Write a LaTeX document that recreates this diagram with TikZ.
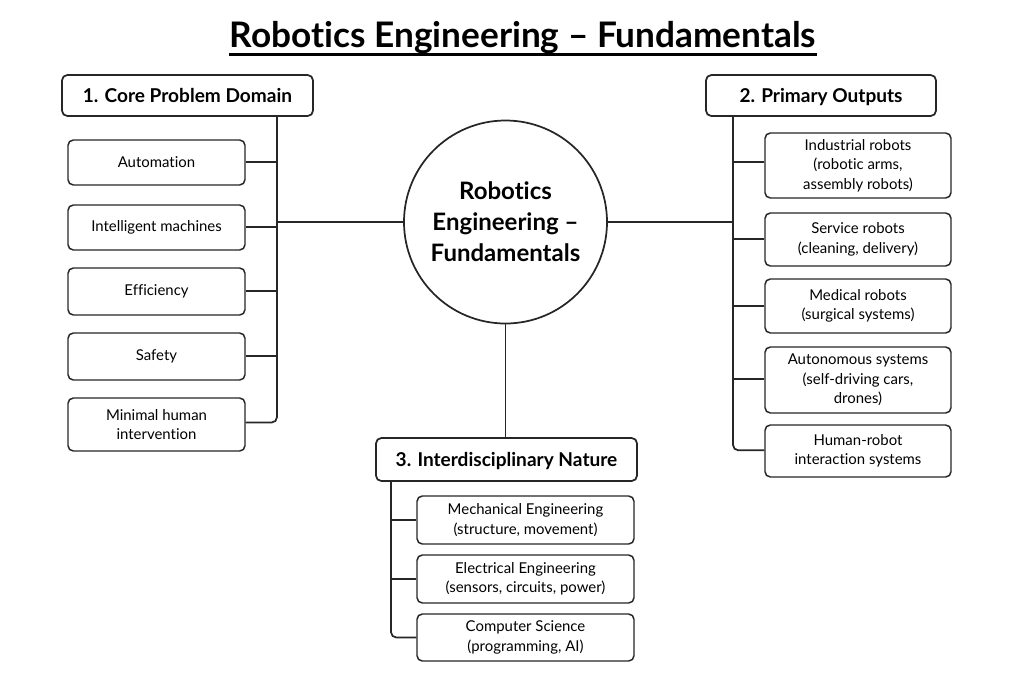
\documentclass[tikz,border=0pt]{standalone}
\usepackage{fontspec}
\setmainfont[Ligatures=NoCommon]{Lato}
\begin{document}
\begin{tikzpicture}[x=0.75pt,y=-0.75pt,
  hdrbox/.style={draw=black!85, line width=1.3pt, rounded corners=4pt, fill=white, align=center, font=\bfseries\fontsize{14.3}{17}\selectfont, inner sep=0pt, text height=13.9pt, text depth=3.6pt},
  itembox/.style={draw=black!85, line width=1.1pt, rounded corners=4pt, fill=white, align=center, font=\fontsize{11.2}{14.6}\selectfont, inner sep=0pt},
  conn/.style={line width=1.3pt, draw=black!85, rounded corners=4pt}]
\useasboundingbox (0,0) rectangle (1024,683);
\newcommand\boxnode[7]{\node[#7, minimum width={(#4-#2)*0.75pt}, minimum height={(#5-#3)*0.75pt}] (#1) at ({(#2+#4)/2},{(#3+#5)/2}) {#6};}
% title
\node[inner sep=0pt, anchor=base, font=\bfseries\fontsize{26.4}{30}\selectfont] (title) at (523,47) {Robotics Engineering -- Fundamentals};
\draw[line width=2.3pt] ([yshift=-5.5pt]title.base west) -- ([yshift=-5.5pt]title.base east);
% center
\node[circle, draw=black!85, line width=1.3pt, minimum size={203*0.75pt}, inner sep=0pt, align=center, font=\bfseries\fontsize{18}{23.3}\selectfont] (ctr) at (505.5,222) {Robotics\\Engineering --\\Fundamentals};
% left
\boxnode{hL}{62}{75}{313}{116}{1. Core Problem Domain}{hdrbox}
\coordinate (tL) at (277,116);
\boxnode{l1}{68}{140}{245}{185}{Automation}{itembox}
\boxnode{l2}{68}{205}{245}{250}{Intelligent machines}{itembox}
\boxnode{l3}{68}{268}{245}{315}{Efficiency}{itembox}
\boxnode{l4}{68}{333}{245}{380}{Safety}{itembox}
\boxnode{l5}{68}{398}{245}{451}{Minimal human\\intervention}{itembox}
\draw[conn] (hL.south -| tL) |- ([yshift=1.5pt]l5.east);
\foreach \n/\yy in {l1/162,l2/227,l3/291,l4/356}{\draw[conn] (\n.east |- 0,\yy) -- (tL |- 0,\yy);}
\draw[conn] (ctr.west) -- (ctr.west -| tL);
% right
\boxnode{hR}{706}{75}{936}{116}{2. Primary Outputs}{hdrbox}
\coordinate (tR) at (733,116);
\boxnode{r1}{765}{133}{951}{198}{Industrial robots\\(robotic arms,\\assembly robots)}{itembox}
\boxnode{r2}{765}{213}{951}{266}{Service robots\\(cleaning, delivery)}{itembox}
\boxnode{r3}{765}{279}{951}{333}{Medical robots\\(surgical systems)}{itembox}
\boxnode{r4}{765}{347}{951}{413}{Autonomous systems\\(self-driving cars,\\drones)}{itembox}
\boxnode{r5}{765}{425}{951}{477}{Human-robot\\interaction systems}{itembox}
\draw[conn] (hR.south -| tR) |- ([yshift=0.5pt]r5.west);
\foreach \n/\yy in {r1/162,r2/239,r3/306,r4/379}{\draw[conn] (\n.west |- 0,\yy) -- (tR |- 0,\yy);}
\draw[conn] (ctr.east) -- (ctr.east -| tR);
% bottom
\boxnode{hB}{376}{438}{637}{481}{3. Interdisciplinary Nature}{hdrbox}
\coordinate (tB) at (391,481);
\boxnode{b1}{417}{496}{634}{544}{Mechanical Engineering\\(structure, movement)}{itembox}
\boxnode{b2}{417}{555}{634}{603}{Electrical Engineering\\(sensors, circuits, power)}{itembox}
\boxnode{b3}{417}{614}{634}{661}{Computer Science\\(programming, AI)}{itembox}
\draw[conn] (hB.south -| tB) |- (b3.west);
\foreach \n in {b1,b2}{\draw[conn] (\n.west) -- (\n.west -| tB);}
\draw[conn] (ctr.south) -- (ctr.south |- hB.north);
\end{tikzpicture}
\end{document}
